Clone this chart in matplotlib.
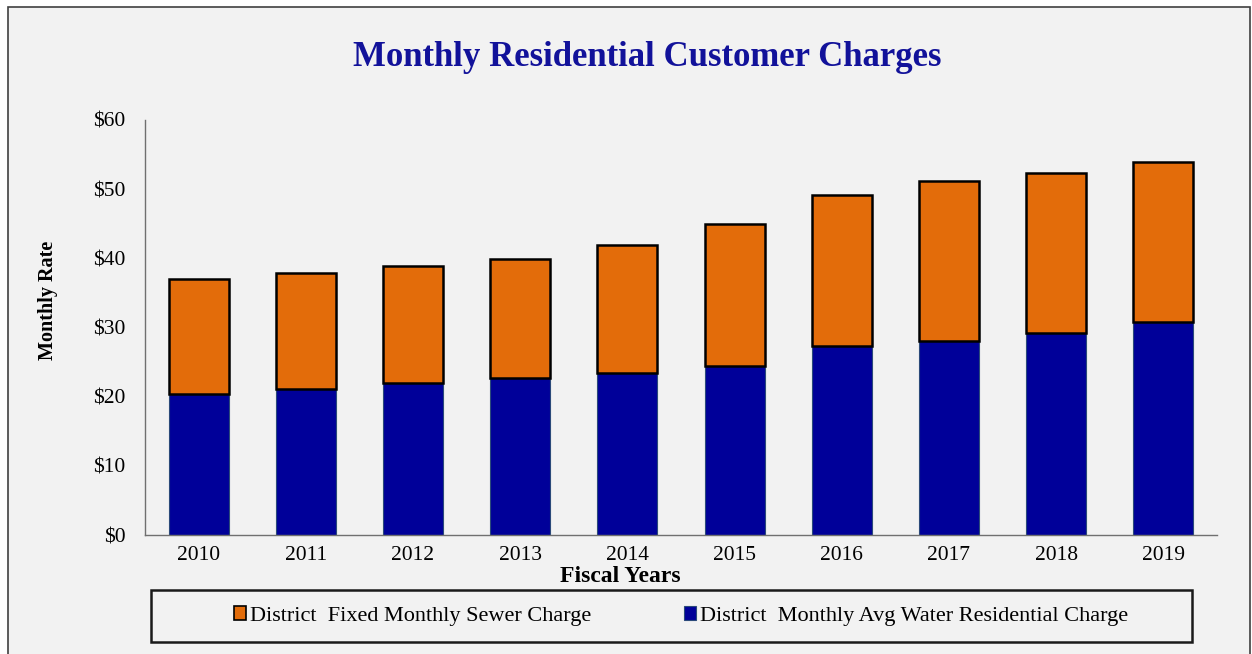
import matplotlib
matplotlib.use("Agg")
import matplotlib.pyplot as plt
from matplotlib.patches import Rectangle, Patch
from matplotlib.ticker import StrMethodFormatter

years = ["2010", "2011", "2012", "2013", "2014", "2015", "2016", "2017", "2018", "2019"]
water = [20.4, 21.1, 22.0, 22.7, 23.4, 24.4, 27.3, 28.0, 29.2, 30.8]
sewer = [16.6, 16.8, 16.9, 17.2, 18.5, 20.6, 21.9, 23.2, 23.1, 23.1]

BG = "#F2F2F2"
ORANGE = "#E36C0A"
BLUE = "#000099"
SERIF = ["Liberation Serif", "DejaVu Serif"]

plt.rcParams['font.family'] = SERIF

fig = plt.figure(figsize=(12.52, 6.54), dpi=100)
fig.patch.set_facecolor("white")
# outer frame of the chart area
fig.patches.append(Rectangle((8 / 1252, -0.05), 1242 / 1252, 1.05 - 7 / 654,
                             transform=fig.transFigure, facecolor=BG,
                             edgecolor="#404040", linewidth=1.2, zorder=-10))

ax = fig.add_axes([145 / 1252, 1 - 535 / 654, 1072 / 1252, 415 / 654])
ax.set_facecolor(BG)

x = range(len(years))
ax.bar(x, water, width=0.56, color=BLUE, edgecolor="#2B4A7A", linewidth=0.8, zorder=2)
ax.bar(x, sewer, width=0.56, bottom=water, color=ORANGE, edgecolor="black", linewidth=1.8, zorder=2)

ax.set_xlim(-0.5, len(years) - 0.5)
ax.set_ylim(0, 60)
ax.set_yticks(range(0, 61, 10))
ax.yaxis.set_major_formatter(StrMethodFormatter("${x:,.0f}"))
ax.set_xticks(list(x))
ax.set_xticklabels(years)
ax.tick_params(axis="both", length=0, labelsize=15.5, colors="black")
ax.tick_params(axis="y", pad=14)
ax.tick_params(axis="x", pad=8)

for s in ["top", "right"]:
    ax.spines[s].set_visible(False)
ax.spines["left"].set_color("#707070")
ax.spines["bottom"].set_color("#707070")
ax.spines["left"].set_linewidth(1.0)
ax.spines["bottom"].set_linewidth(1.0)

fig.text(647 / 1252, 1 - 57 / 654, "Monthly Residential Customer Charges", ha="center", va="center",
         fontsize=25, fontweight="bold", color="#12129A")
fig.text(48 / 1252, 1 - 300 / 654, "Monthly Rate", rotation=90, ha="center", va="center",
         fontsize=14.5, fontweight="bold")
fig.text(620 / 1252, 1 - 576 / 654, "Fiscal Years", ha="center", va="center",
         fontsize=17, fontweight="bold")

# legend box
fig.patches.append(Rectangle((151 / 1252, 1 - 642 / 654), 1041 / 1252, 52 / 654,
                             transform=fig.transFigure, facecolor="none",
                             edgecolor="#1A1A1A", linewidth=1.8))
handles = [Patch(facecolor=ORANGE, edgecolor="black", linewidth=1.2),
           Patch(facecolor=BLUE, edgecolor="#2B4A7A", linewidth=0.8)]
labels = ["District  Fixed Monthly Sewer Charge", "District  Monthly Avg Water Residential Charge"]
fig.legend(handles, labels, loc="center", bbox_to_anchor=(681 / 1252, 1 - 616 / 654),
           ncol=2, frameon=False, fontsize=16, handlelength=0.55, handleheight=0.55,
           handletextpad=0.15, columnspacing=4.2)

fig.savefig("out.png", dpi=100, facecolor=fig.get_facecolor())
